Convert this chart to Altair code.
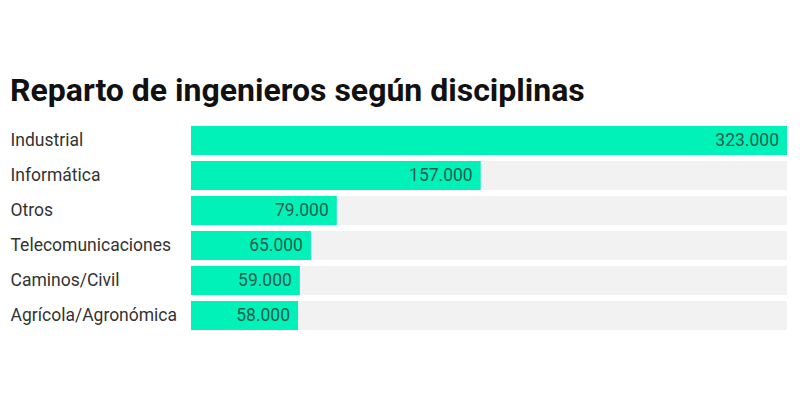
import altair as alt
import pandas as pd

disciplinas = ["Industrial", "Informática", "Otros", "Telecomunicaciones",
               "Caminos/Civil", "Agrícola/Agronómica"]
ingenieros = [323000, 157000, 79000, 65000, 59000, 58000]

df = pd.DataFrame({"disciplina": disciplinas, "ingenieros": ingenieros})

y_enc = alt.Y(
    "disciplina:N",
    sort=disciplinas,
    title=None,
    scale=alt.Scale(paddingInner=0.17, paddingOuter=0.085),
    axis=alt.Axis(
        labelAlign="left", labelPadding=181, ticks=False, tickSize=0,
        domain=False, labelFontSize=17.5, labelColor="#333333",
        labelFont="Roboto", grid=False,
    ),
)
x_scale = alt.Scale(domain=[0, 323000], nice=False)

base = alt.Chart(df).encode(y=y_enc)

fondo = base.transform_joinaggregate(
    maximo="max(ingenieros)"
).mark_bar(color="#f2f2f2").encode(
    x=alt.X("maximo:Q", scale=x_scale, axis=None)
)

barras = base.mark_bar(color="#00f2b8").encode(
    x=alt.X("ingenieros:Q", scale=x_scale, axis=None)
)

etiquetas = base.transform_calculate(
    texto="replace(format(datum.ingenieros, ',d'), ',', '.')"
).mark_text(
    align="right", baseline="middle", dx=-8, fontSize=17.5,
    font="Roboto", color="#235e50"
).encode(
    x=alt.X("ingenieros:Q", scale=x_scale, axis=None),
    text="texto:N",
)

chart = alt.layer(fondo, barras, etiquetas).properties(
    width=596,
    height=210,
    autosize=alt.AutoSizeParams(type="none"),
    padding={"left": 183, "top": 115, "right": 5, "bottom": 60},
    title=alt.TitleParams(
        "Reparto de ingenieros según disciplinas",
        anchor="start", frame="group", dx=-181, offset=15,
        fontSize=32, font="Roboto", fontWeight="bold", color="#111111",
    ),
).configure_view(stroke=None)

chart.save("out.html", embed_options={"renderer": "svg", "actions": False})
